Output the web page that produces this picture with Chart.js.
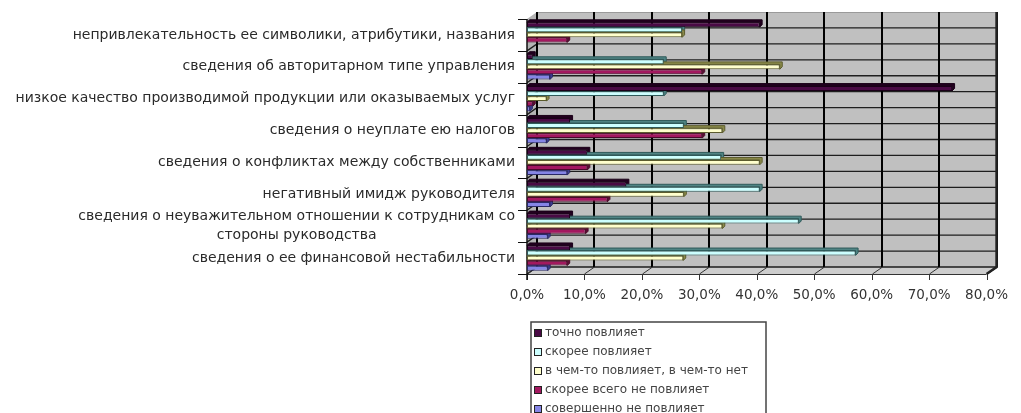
<!DOCTYPE html>
<html>
<head>
<meta charset="utf-8">
<script src="https://cdn.jsdelivr.net/npm/chart.js@4/dist/chart.umd.min.js"></script>
<style>
  html, body { margin: 0; padding: 0; background: #ffffff; }
  #wrap { width: 1021px; height: 413px; position: relative; }
</style>
</head>
<body>
<div id="wrap"><canvas id="c"></canvas></div>
<script>
// Факторы, влияющие на отношение к организации (доля ответов, %)
const categories = [
  'непривлекательность ее символики, атрибутики, названия',
  'сведения об авторитарном типе управления',
  'низкое качество производимой продукции или оказываемых услуг',
  'сведения о неуплате ею налогов',
  'сведения о конфликтах между собственниками',
  'негативный имидж руководителя',
  ['сведения о неуважительном отношении к сотрудникам со', 'стороны руководства'],
  'сведения о ее финансовой нестабильности'
];

const seriesNames = [
  'точно повлияет',
  'скорее повлияет',
  'в чем-то повлияет, в чем-то нет',
  'скорее всего не повлияет',
  'совершенно не повлияет'
];

const definitely   = [40.5, 1.0, 74.0, 7.5, 10.5, 17.3, 7.5, 7.5];
const probably     = [27.0, 23.8, 23.8, 27.3, 33.8, 40.5, 47.3, 57.2];
const partly       = [27.0, 44.0, 3.4, 34.0, 40.5, 27.3, 34.0, 27.2];
const probablyNot  = [7.0, 30.5, 1.0, 30.5, 10.5, 14.0, 10.2, 7.0];
const definitelyNot = [0.0, 4.0, 0.5, 3.4, 7.0, 4.0, 3.6, 3.6];

const xTicks = [0, 10, 20, 30, 40, 50, 60, 70, 80];

const fills   = ['#4a0a45', '#ccffff', '#ffffcc', '#a3185f', '#8585e6'];
const borders = ['#1a0018', '#2f5a5a', '#5c5c2e', '#4a0a2a', '#2a2a66'];
const shades  = ['#22001f', '#4f8484', '#8a8a4a', '#5a0c34', '#3d3d8f'];

const seriesValues = [definitely, probably, partly, probablyNot, definitelyNot];

const DX = 10, DY = 7;   // depth offset of the back wall
const LABEL_FONT = '14px "DejaVu Sans"';
const LABEL_LINE = 19;

function fmtPct(v) {
  return v.toFixed(1).replace('.', ',') + '%';
}

// Back wall, side wall, floor and grid
const wallPlugin = {
  id: 'wall3d',
  beforeDatasetsDraw(chart) {
    const { ctx, chartArea: a, scales } = chart;
    const xs = scales.x, ys = scales.y;
    ctx.save();
    // side wall
    ctx.fillStyle = '#b4b4b4';
    ctx.beginPath();
    ctx.moveTo(a.left, a.top);
    ctx.lineTo(a.left + DX, a.top - DY);
    ctx.lineTo(a.left + DX, a.bottom - DY);
    ctx.lineTo(a.left, a.bottom);
    ctx.closePath();
    ctx.fill();
    // back wall
    ctx.fillStyle = '#c0c0c0';
    ctx.fillRect(a.left + DX, a.top - DY, a.right - a.left, a.bottom - a.top);
    ctx.strokeStyle = '#9a9a9a';
    ctx.lineWidth = 1;
    ctx.strokeRect(a.left + DX + 0.5, a.top - DY + 0.5, a.right - a.left, a.bottom - a.top);
    // floor
    ctx.fillStyle = '#cdcdcd';
    ctx.beginPath();
    ctx.moveTo(a.left, a.bottom);
    ctx.lineTo(a.right, a.bottom);
    ctx.lineTo(a.right + DX, a.bottom - DY);
    ctx.lineTo(a.left + DX, a.bottom - DY);
    ctx.closePath();
    ctx.fill();

    // horizontal lines at category boundaries and centres
    const step = ys.getPixelForValue(1) - ys.getPixelForValue(0);
    ctx.strokeStyle = '#1e1e1e';
    ctx.lineWidth = 1.3;
    for (let i = 0; i < categories.length; i++) {
      const yc = ys.getPixelForValue(i);
      const lines = [yc - step / 2, yc];
      if (i === categories.length - 1) lines.push(yc + step / 2);
      for (const yy of lines) {
        if (yy - DY <= a.top - DY + 1) continue;
        ctx.beginPath();
        ctx.moveTo(a.left, yy);
        ctx.lineTo(a.left + DX, yy - DY);
        ctx.lineTo(a.right + DX, yy - DY);
        ctx.stroke();
      }
    }
    // vertical grid lines on the back wall and across the floor
    ctx.strokeStyle = '#000000';
    ctx.lineWidth = 2;
    for (const v of xTicks) {
      const xv = Math.round(xs.getPixelForValue(v));
      ctx.beginPath();
      ctx.moveTo(xv + DX, a.top - DY);
      ctx.lineTo(xv + DX, a.bottom - DY);
      ctx.stroke();
    }
    ctx.lineWidth = 1;
    ctx.strokeStyle = '#333333';
    for (const v of xTicks) {
      const xv = Math.round(xs.getPixelForValue(v)) + 0.5;
      ctx.beginPath();
      ctx.moveTo(xv + DX, a.bottom - DY);
      ctx.lineTo(xv, a.bottom);
      ctx.lineTo(xv, a.bottom + 6);
      ctx.stroke();
    }
    // right edge of the wall
    ctx.strokeStyle = '#222222';
    ctx.lineWidth = 2.5;
    ctx.beginPath();
    ctx.moveTo(a.right + DX, a.top - DY);
    ctx.lineTo(a.right + DX, a.bottom - DY);
    ctx.lineTo(a.right, a.bottom);
    ctx.stroke();
    // front floor edge
    ctx.lineWidth = 1;
    ctx.strokeStyle = '#333333';
    ctx.beginPath();
    ctx.moveTo(a.left, a.bottom + 0.5);
    ctx.lineTo(a.right, a.bottom + 0.5);
    ctx.stroke();
    // category axis with tick marks
    ctx.strokeStyle = '#111111';
    ctx.lineWidth = 1.5;
    ctx.beginPath();
    ctx.moveTo(a.left, a.top);
    ctx.lineTo(a.left, a.bottom + 6);
    ctx.stroke();
    ctx.lineWidth = 1;
    for (let i = 0; i <= categories.length; i++) {
      const yy = Math.round(ys.getPixelForValue(0) - step / 2 + i * step) + 0.5;
      ctx.beginPath();
      ctx.moveTo(a.left - 9, yy);
      ctx.lineTo(a.left, yy);
      ctx.stroke();
    }

    // depth faces of the bars (top and end), drawn behind the front faces
    const d = 2.5;
    chart.data.datasets.forEach((ds, di) => {
      const meta = chart.getDatasetMeta(di);
      meta.data.forEach((el, j) => {
        if (!(ds.data[j] > 0)) return;
        const p = el.getProps(['x', 'y', 'base', 'height'], true);
        const t = p.y - p.height / 2, b = p.y + p.height / 2;
        ctx.fillStyle = shades[di];
        ctx.strokeStyle = borders[di];
        ctx.lineWidth = 1;
        ctx.beginPath();
        ctx.moveTo(p.base, t);
        ctx.lineTo(p.base + d, t - d);
        ctx.lineTo(p.x + d, t - d);
        ctx.lineTo(p.x + d, b - d);
        ctx.lineTo(p.x, b);
        ctx.lineTo(p.x, t);
        ctx.closePath();
        ctx.fill();
        ctx.stroke();
      });
    });
    ctx.restore();
  }
};

// Category labels: each block sits against the axis, its lines centred on one another
const categoryLabelPlugin = {
  id: 'categoryLabels',
  afterDraw(chart) {
    const { ctx, scales } = chart;
    const ys = scales.y;
    const rightEdge = chart.chartArea.left - 12;
    ctx.save();
    ctx.font = LABEL_FONT;
    ctx.fillStyle = '#2a2a2a';
    ctx.textAlign = 'center';
    ctx.textBaseline = 'middle';
    chart.data.labels.forEach((lab, i) => {
      const lines = Array.isArray(lab) ? lab : [lab];
      const w = Math.max(...lines.map(s => ctx.measureText(s).width));
      const cx = rightEdge - w / 2;
      const yc = ys.getPixelForValue(i);
      const y0 = yc - (lines.length - 1) * LABEL_LINE / 2;
      lines.forEach((s, k) => ctx.fillText(s, cx, y0 + k * LABEL_LINE));
    });
    ctx.restore();
  }
};

// Legend box listed vertically under the chart
const legendBoxPlugin = {
  id: 'legendBox',
  afterDraw(chart) {
    const { ctx } = chart;
    const bx = 531, by = 322, bw = 235, bh = 100;
    ctx.save();
    ctx.fillStyle = '#ffffff';
    ctx.fillRect(bx, by, bw, bh);
    ctx.strokeStyle = '#444444';
    ctx.lineWidth = 1.5;
    ctx.strokeRect(bx, by, bw, bh);
    ctx.font = '12px "DejaVu Sans"';
    ctx.textBaseline = 'middle';
    chart.data.datasets.forEach((ds, i) => {
      const yy = by + 11 + i * 19;
      ctx.fillStyle = ds.backgroundColor;
      ctx.fillRect(bx + 3, yy - 4, 8, 8);
      ctx.strokeStyle = '#222222';
      ctx.lineWidth = 1;
      ctx.strokeRect(bx + 3.5, yy - 3.5, 7, 7);
      ctx.fillStyle = '#444444';
      ctx.fillText(ds.label, bx + 14, yy);
    });
    ctx.restore();
  }
};

new Chart(document.getElementById('c'), {
  type: 'bar',
  data: {
    labels: categories,
    datasets: seriesValues.map((vals, i) => ({
      label: seriesNames[i],
      data: vals,
      backgroundColor: fills[i],
      borderColor: borders[i],
      borderWidth: 1,
      borderSkipped: false,
      categoryPercentage: 0.8,
      barPercentage: 0.95
    }))
  },
  options: {
    indexAxis: 'y',
    responsive: true,
    maintainAspectRatio: false,
    animation: false,
    layout: { padding: { top: 19, right: 23, left: 0, bottom: 0 } },
    plugins: {
      legend: { display: false },
      tooltip: { enabled: false }
    },
    scales: {
      x: {
        min: 0,
        max: 80,
        grid: { display: false, drawTicks: false },
        border: { display: false },
        afterFit(s) { s.height = 139; },
        afterBuildTicks(s) { s.ticks = xTicks.map(v => ({ value: v })); },
        ticks: {
          padding: 13,
          color: '#333333',
          font: { family: 'DejaVu Sans', size: 13.5 },
          callback: v => fmtPct(v),
          maxRotation: 0
        }
      },
      y: {
        grid: { display: false, drawTicks: false },
        border: { display: false },
        afterFit(s) { s.width = 527; },
        ticks: { display: false }
      }
    }
  },
  plugins: [wallPlugin, categoryLabelPlugin, legendBoxPlugin]
});
</script>
</body>
</html>
